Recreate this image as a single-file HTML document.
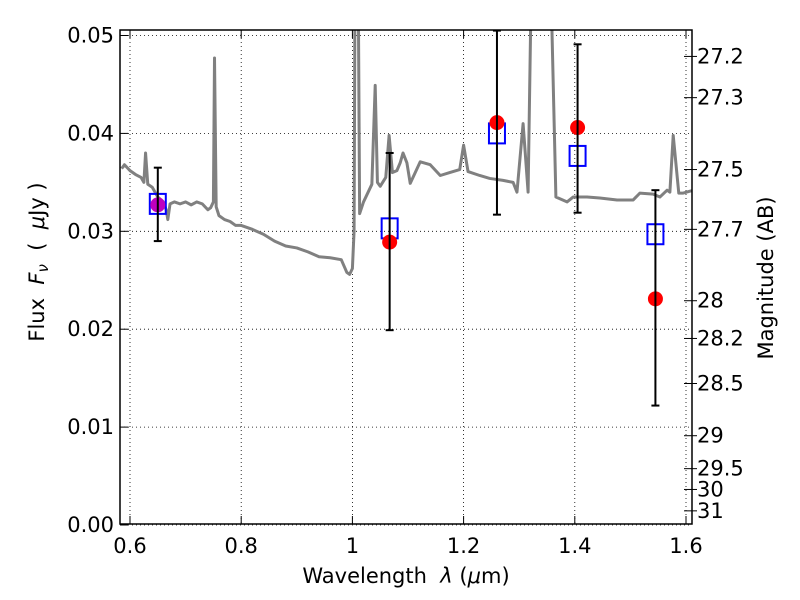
<!DOCTYPE html>
<html><head><meta charset="utf-8"><style>
body{margin:0;background:#fff;}
svg{display:block;font-family:"DejaVu Sans","Liberation Sans",sans-serif;}
text{white-space:pre;}
</style></head><body>
<svg id="chart" width="800" height="600" xmlns="http://www.w3.org/2000/svg">
<defs><clipPath id="clip"><rect x="120" y="30" width="572" height="494"/></clipPath></defs>
<g id="grid"></g>
<g id="spec" clip-path="url(#clip)"></g>
<g id="pts"></g>
<rect x="120" y="30" width="572" height="494" fill="none" stroke="#000" stroke-width="1.5"/>
<g id="axes"></g>
<text x="406" y="583" font-size="21" text-anchor="middle">Wavelength  <tspan font-style="italic">λ</tspan> (<tspan font-style="italic">μ</tspan>m)</text>
<text transform="translate(44,262) rotate(-90)" font-size="21" text-anchor="middle">Flux  <tspan font-style="italic">F<tspan font-size="15" dy="4">ν</tspan></tspan><tspan dy="-4">  (  </tspan><tspan font-style="italic">μ</tspan>Jy )</text>
<text transform="translate(773,278) rotate(-90)" font-size="21" text-anchor="middle">Magnitude (AB)</text>
</svg>
<script>
const xTicks=[0.6,0.8,1.0,1.2,1.4,1.6];
const xTickLabels=["0.6","0.8","1","1.2","1.4","1.6"];
const yTicks=[0,0.01,0.02,0.03,0.04,0.05];
const yTickLabels=["0.00","0.01","0.02","0.03","0.04","0.05"];
const magTicks=[27.2,27.3,27.5,27.7,28,28.2,28.5,29,29.5,30,31];
const magTickLabels=["27.2","27.3","27.5","27.7","28","28.2","28.5","29","29.5","30","31"];
const specWave=[0.585,0.59,0.60,0.61,0.62,0.625,0.628,0.632,0.64,0.645,0.65,0.66,0.665,0.668,0.672,0.68,0.69,0.70,0.71,0.72,0.73,0.74,0.745,0.75,0.752,0.755,0.76,0.77,0.78,0.79,0.80,0.82,0.84,0.86,0.88,0.90,0.92,0.94,0.96,0.98,0.99,0.995,1.0,1.003,1.005,1.01,1.013,1.02,1.03,1.035,1.041,1.045,1.05,1.06,1.066,1.072,1.08,1.086,1.091,1.098,1.104,1.122,1.14,1.158,1.175,1.193,1.2,1.208,1.229,1.247,1.271,1.289,1.296,1.307,1.316,1.323,1.355,1.366,1.386,1.397,1.422,1.445,1.476,1.505,1.517,1.541,1.553,1.566,1.571,1.577,1.587,1.595,1.607,1.615];
const specFlux=[0.0364,0.0368,0.0362,0.0358,0.0355,0.0350,0.0380,0.0348,0.0345,0.0340,0.0335,0.0330,0.0322,0.0312,0.0328,0.0330,0.0328,0.0330,0.0327,0.0330,0.0328,0.0322,0.0324,0.0330,0.0477,0.0325,0.0316,0.0312,0.0310,0.0306,0.0306,0.0302,0.0297,0.0290,0.0285,0.0283,0.0279,0.0274,0.0273,0.0271,0.0258,0.0256,0.0262,0.0300,0.0600,0.0600,0.0318,0.0330,0.0342,0.0348,0.0449,0.0350,0.0346,0.0355,0.0398,0.0360,0.0362,0.0370,0.0380,0.0370,0.0349,0.0371,0.0368,0.0357,0.0360,0.0363,0.0388,0.0361,0.0357,0.0354,0.0352,0.0350,0.0340,0.0410,0.0340,0.0600,0.0600,0.0335,0.0330,0.0335,0.0335,0.0334,0.0332,0.0332,0.0339,0.0338,0.0335,0.0342,0.0340,0.0398,0.0339,0.0339,0.0341,0.0342];
const obsWave=[0.65,1.067,1.26,1.405,1.545];
const obsFlux=[0.0327,0.0289,0.0411,0.0406,0.0231];
const obsLo=[0.0290,0.0199,0.0317,0.0319,0.0122];
const obsHi=[0.0365,0.0380,0.0505,0.0491,0.0342];
const modelFlux=[0.0328,0.0303,0.0400,0.0377,0.0297];
const NS="http://www.w3.org/2000/svg";
const X=v=>130+(v-0.6)*556;
const Y=f=>525-f*9790;
function mk(tag,attrs,parent){const e=document.createElementNS(NS,tag);for(const k in attrs)e.setAttribute(k,attrs[k]);parent.appendChild(e);return e;}
const grid=document.getElementById('grid'),axes=document.getElementById('axes');
xTicks.forEach((t,i)=>{
 const gl=mk('line',{x1:X(t),x2:X(t),y1:30,y2:524,stroke:'#000','stroke-width':0.8,'stroke-dasharray':'1,3'},grid);
 
 mk('line',{x1:X(t),x2:X(t),y1:524,y2:516,stroke:'#000'},axes);
 mk('line',{x1:X(t),x2:X(t),y1:30,y2:38,stroke:'#000'},axes);
 const tx=mk('text',{x:X(t),y:553,'font-size':21,'text-anchor':'middle'},axes);tx.textContent=xTickLabels[i];
 
});
yTicks.forEach((t,i)=>{
 const gl=mk('line',{x1:120,x2:692,y1:Y(t),y2:Y(t),stroke:'#000','stroke-width':0.8,'stroke-dasharray':'1,3'},grid);
 
 mk('line',{x1:120,x2:128,y1:Y(t),y2:Y(t),stroke:'#000'},axes);
 const tx=mk('text',{x:114,y:Y(t)+7,'font-size':21,'text-anchor':'end'},axes);tx.textContent=yTickLabels[i];
 
});
magTicks.forEach((m,i)=>{
 const y=Y(Math.pow(10,(23.9-m)/2.5));
 mk('line',{x1:684,x2:692,y1:y,y2:y,stroke:'#000'},axes);
 mk('line',{x1:692,x2:697,y1:y,y2:y,stroke:'#000'},axes);
 const tx=mk('text',{x:697,y:y+7,'font-size':21},axes);tx.textContent=magTickLabels[i];
 
});
const spec=document.getElementById('spec');
const sp=mk('polyline',{points:specWave.map((w,i)=>X(w)+','+Y(specFlux[i])).join(' '),fill:'none',stroke:'#808080','stroke-width':3,'stroke-linejoin':'round'},spec);

const pts=document.getElementById('pts');
obsWave.forEach((w,i)=>{
 const x=X(w);
 const sq=mk('rect',{x:x-8,y:Y(modelFlux[i])-10,width:16,height:20,fill:'none',stroke:'#0000ff','stroke-width':2},pts);
 
 const c=mk('circle',{cx:x,cy:Y(obsFlux[i]),r:7.5,fill:i===0?'#bf00bf':'#ff0000'},pts);
 
 const eb=mk('g',{stroke:'#000','stroke-width':2},pts);
 
 mk('line',{x1:x,x2:x,y1:Y(obsLo[i]),y2:Y(obsHi[i])},eb);
 mk('line',{x1:x-4,x2:x+4,y1:Y(obsLo[i]),y2:Y(obsLo[i])},eb);
 mk('line',{x1:x-4,x2:x+4,y1:Y(obsHi[i]),y2:Y(obsHi[i])},eb);
});
</script>
</body></html>
